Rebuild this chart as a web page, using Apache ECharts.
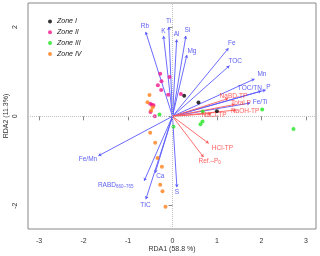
<!DOCTYPE html>
<html><head><meta charset="utf-8">
<script src="https://cdn.jsdelivr.net/npm/echarts@6/dist/echarts.min.js"></script>
<style>html,body{margin:0;padding:0;background:#fff}#c{width:320px;height:256px}</style>
</head><body><div id="c"></div>
<script>
// ---- data ----
const xTicks = [-3, -2, -1, 0, 1, 2, 3];
const yTicks = [-2, 0, 2];
const zoneNames = ['Zone I', 'Zone II', 'Zone III', 'Zone IV'];
const zone1 = [[0.263,0.460],[0.584,0.309],[0.998,0.112]];
const zone2 = [[-0.276,0.955],[-0.067,0.881],[-0.247,0.785],[-0.328,0.695],[-0.254,0.590],[-0.097,0.484],[0.189,0.500],[-0.501,0.283],[-0.463,0.260],[-0.427,0.247],[-0.494,0.096],[-0.396,0.0]];
const zone3 = [[-0.292,0.040],[0.022,-0.233],[0.679,0.108],[0.674,-0.117],[0.629,-0.179],[2.016,0.152],[2.719,-0.285]];
const zone4 = [[-0.517,0.478],[-0.562,0.314],[-0.445,0.202],[-0.479,0.130],[-0.501,-0.37],[-0.389,-0.592],[-0.337,-0.930],[-0.238,-1.126],[-0.276,-1.529],[-0.225,-1.679],[-0.157,-2.022]];
const envNames = ['Rb','K','Ti','Al','Si','Mg','Fe','TOC','Mn','TOC/TN','P','Fe/Ti','Fe/Mn','RABD','Ca','TIC','S'];
const envX = [-0.602,-0.202,-0.085,0.094,0.301,0.324,1.258,1.281,1.843,1.993,2.094,1.746,-1.663,-0.636,-0.389,-0.598,0.099];
const envY = [1.89,1.80,2.00,1.72,1.80,1.374,1.525,1.135,0.836,0.567,0.590,0.298,-0.883,-1.444,-1.265,-1.854,-1.585];
const pNames = ['NaBD-TP','Total P','NaOH-TP','NaCl-TP','HCl-TP','Ref.-Po'];
const pX = [1.252,1.398,1.431,0.870,0.813,0.697];
const pY = [0.399,0.265,0.141,0.063,-0.605,-0.913];

// ---- style ----
const FONT = 'Liberation Sans, Arial, Helvetica, sans-serif';
const zoneColors = ['#000000', '#f0168c', '#22e622', '#ff7f1a'];
const BLUE_LINE = '#5a5aff', BLUE_TEXT = '#3333f0';
const RED_LINE = '#ff5c5c', RED_TEXT = '#ff3333';
// label placement relative to arrow tip: [align, dx px, dy px]
const place = {
  'Rb':['center',-0.8,-5.3],'K':['center',0,-4.6],'Ti':['center',0,-5.3],'Al':['center',0,-5.5],
  'Si':['center',1.5,-5.7],'Mg':['center',5,-4],'Fe':['center',3.4,-5],'TOC':['center',5.7,-4.7],
  'Mn':['center',7.4,-5],'TOC/TN':['right',0.7,-3],'P':['center',2.8,-3],'Fe/Ti':['left',2.6,-1.3],
  'Fe/Mn':['right',-1.3,3.8],'RABD':['right',-10.7,4],'Ca':['left',1,3.3],'TIC':['center',-0.4,5.7],
  'S':['center',0,5.3],
  'NaBD-TP':['center',5.3,-2.2],'Total P':['center',6.3,-1.2],'NaOH-TP':['center',9,1.3],
  'NaCl-TP':['center',3,1.8],'HCl-TP':['left',3.2,5],'Ref.-Po':['left',-5,3.7]
};
const richText = {
  'RABD': '{m|RABD}{s|660–765}',
  'Ref.-Po': '{m|Ref.–P}{s|0}'
};

function arrows(names, xs, ys, color) {
  return {
    type: 'lines', coordinateSystem: 'cartesian2d', silent: true, z: 3,
    symbol: ['none', 'arrow'], symbolSize: 3,
    lineStyle: { color: color, width: 0.9, opacity: 1 },
    data: names.map((n, i) => ({ coords: [[0, 0], [xs[i], ys[i]]] }))
  };
}
function labels(names, xs, ys, color) {
  return {
    type: 'scatter', silent: true, z: 5, symbolSize: 0.01,
    itemStyle: { color: 'rgba(0,0,0,0)' },
    data: names.map((n, i) => {
      const p = place[n] || ['center', 0, 0];
      return {
        value: [xs[i], ys[i]], name: n,
        label: {
          show: true, position: [p[1], p[2]], align: p[0], verticalAlign: 'middle',
          formatter: richText[n] || n,
          color: color, fontSize: 6.5, fontFamily: FONT,
          rich: {
            m: { color: color, fontSize: 6.5, fontFamily: FONT, lineHeight: 8 },
            s: { color: color, fontSize: 4.5, fontFamily: FONT, lineHeight: 5, verticalAlign: 'bottom' }
          }
        }
      };
    })
  };
}

const zones = [zone1, zone2, zone3, zone4];
const series = [];
series.push(arrows(envNames, envX, envY, BLUE_LINE));
series.push(arrows(pNames, pX, pY, RED_LINE));
zones.forEach((z, i) => series.push({
  type: 'scatter', name: zoneNames[i], data: z, symbolSize: 4, z: 4,
  itemStyle: { color: zoneColors[i] },
  markLine: i === 0 ? {
    silent: true, symbol: ['none', 'none'], label: { show: false },
    lineStyle: { color: '#c0c0c0', type: 'dotted', width: 1 },
    data: [{ xAxis: 0 }, { yAxis: 0 }]
  } : undefined
}));
series.push(labels(envNames, envX, envY, BLUE_TEXT));
series.push(labels(pNames, pX, pY, RED_TEXT));

const chart = echarts.init(document.getElementById('c'), null, { renderer: 'canvas' });
chart.setOption({
  animation: false,
  backgroundColor: '#fff',
  grid: { left: 28, right: 4, top: 3, bottom: 27, show: true, borderColor: '#888', borderWidth: 1,
          containLabel: false, outerBoundsMode: 'none' },
  legend: {
    data: zoneNames, orient: 'vertical', left: 43, top: 13,
    icon: 'circle', itemWidth: 4, itemHeight: 4, itemGap: 3.8,
    textStyle: { fontSize: 7, fontStyle: 'italic', color: '#222', fontFamily: FONT, lineHeight: 7 }
  },
  xAxis: {
    type: 'value', min: -3.247, max: 3.225,
    name: 'RDA1 (58.8 %)', nameLocation: 'middle', nameGap: 17, nameMoveOverlap: false,
    nameTextStyle: { fontSize: 7, color: '#333', fontFamily: FONT },
    axisLine: { show: false },
    axisTick: { show: true, length: 4, lineStyle: { color: '#888' }, customValues: xTicks },
    axisLabel: { fontSize: 7, color: '#333', fontFamily: FONT, margin: 9, customValues: xTicks },
    splitLine: { show: false }
  },
  yAxis: {
    type: 'value', min: -2.522, max: 2.537,
    name: 'RDA2 (11.3%)', nameLocation: 'middle', nameGap: 18, nameMoveOverlap: false,
    nameTextStyle: { fontSize: 7, color: '#333', fontFamily: FONT },
    axisLine: { show: false },
    axisTick: { show: true, length: 4, lineStyle: { color: '#888' }, customValues: yTicks },
    axisLabel: { fontSize: 7, color: '#333', fontFamily: FONT, margin: 9, rotate: 90, customValues: yTicks },
    splitLine: { show: false }
  },
  series: series
});
</script></body></html>
